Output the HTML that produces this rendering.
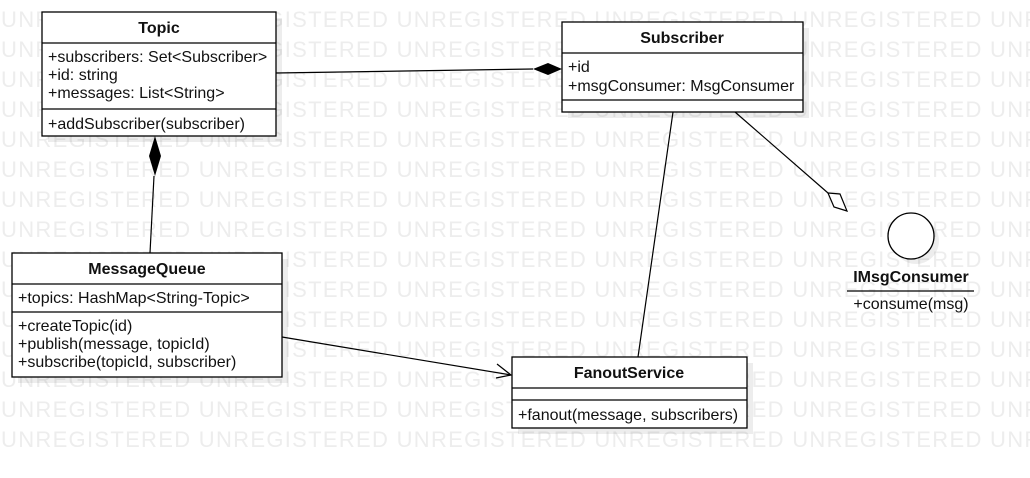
<!DOCTYPE html>
<html><head><meta charset="utf-8"><style>
html,body{margin:0;padding:0;background:#fff;}
svg{display:block;}
.wm{font-family:"Liberation Sans",sans-serif;font-size:22px;fill:#ededed;letter-spacing:1.3px;}
.t{font-family:"Liberation Sans",sans-serif;font-size:16px;fill:#111;}
.b{font-family:"Liberation Sans",sans-serif;font-size:16px;font-weight:bold;fill:#111;}
</style></head><body>
<svg width="1030" height="478" viewBox="0 0 1030 478" xmlns="http://www.w3.org/2000/svg">
<g class="wm">
<text x="1" y="27">UNREGISTERED UNREGISTERED UNREGISTERED UNREGISTERED UNREGISTERED UNREGISTERED</text>
<text x="1" y="57">UNREGISTERED UNREGISTERED UNREGISTERED UNREGISTERED UNREGISTERED UNREGISTERED</text>
<text x="1" y="87">UNREGISTERED UNREGISTERED UNREGISTERED UNREGISTERED UNREGISTERED UNREGISTERED</text>
<text x="1" y="117">UNREGISTERED UNREGISTERED UNREGISTERED UNREGISTERED UNREGISTERED UNREGISTERED</text>
<text x="1" y="147">UNREGISTERED UNREGISTERED UNREGISTERED UNREGISTERED UNREGISTERED UNREGISTERED</text>
<text x="1" y="177">UNREGISTERED UNREGISTERED UNREGISTERED UNREGISTERED UNREGISTERED UNREGISTERED</text>
<text x="1" y="207">UNREGISTERED UNREGISTERED UNREGISTERED UNREGISTERED UNREGISTERED UNREGISTERED</text>
<text x="1" y="237">UNREGISTERED UNREGISTERED UNREGISTERED UNREGISTERED UNREGISTERED UNREGISTERED</text>
<text x="1" y="267">UNREGISTERED UNREGISTERED UNREGISTERED UNREGISTERED UNREGISTERED UNREGISTERED</text>
<text x="1" y="297">UNREGISTERED UNREGISTERED UNREGISTERED UNREGISTERED UNREGISTERED UNREGISTERED</text>
<text x="1" y="327">UNREGISTERED UNREGISTERED UNREGISTERED UNREGISTERED UNREGISTERED UNREGISTERED</text>
<text x="1" y="357">UNREGISTERED UNREGISTERED UNREGISTERED UNREGISTERED UNREGISTERED UNREGISTERED</text>
<text x="1" y="387">UNREGISTERED UNREGISTERED UNREGISTERED UNREGISTERED UNREGISTERED UNREGISTERED</text>
<text x="1" y="417">UNREGISTERED UNREGISTERED UNREGISTERED UNREGISTERED UNREGISTERED UNREGISTERED</text>
<text x="1" y="447">UNREGISTERED UNREGISTERED UNREGISTERED UNREGISTERED UNREGISTERED UNREGISTERED</text>
</g>
<g fill="#000" fill-opacity="0.07">
<rect x="48" y="18" width="234" height="124"/>
<rect x="568" y="28" width="241" height="90"/>
<rect x="18" y="259" width="270" height="124"/>
<rect x="518" y="363" width="235" height="71"/>
<circle cx="916" cy="241" r="23"/>
</g>
<g stroke="#000" stroke-width="1.2" fill="none">
<line x1="276" y1="73" x2="533" y2="69"/>
<line x1="154" y1="176" x2="150" y2="253"/>
<line x1="673" y1="112" x2="638" y2="357"/>
<line x1="735" y1="112" x2="828" y2="193"/>
<line x1="282" y1="337" x2="511" y2="375"/>
<polyline points="497,364 511,375 496,378"/>
</g>
<polygon points="562,69 548,63 533,69 548,75" fill="#000"/>
<polygon points="155,136 161,156 155,176 149,156" fill="#000"/>
<polygon points="828,193 840,194 847,211 834,207" fill="#fff" stroke="#000" stroke-width="1.2"/>
<g fill="#fff" stroke="#000" stroke-width="1.3">
<rect x="42" y="12" width="234" height="124"/>
<line x1="42" y1="43" x2="276" y2="43"/>
<line x1="42" y1="109" x2="276" y2="109"/>
<rect x="562" y="22" width="241" height="90"/>
<line x1="562" y1="53" x2="803" y2="53"/>
<line x1="562" y1="100" x2="803" y2="100"/>
<rect x="12" y="253" width="270" height="124"/>
<line x1="12" y1="284" x2="282" y2="284"/>
<line x1="12" y1="312" x2="282" y2="312"/>
<rect x="512" y="357" width="235" height="71"/>
<line x1="512" y1="388" x2="747" y2="388"/>
<line x1="512" y1="400" x2="747" y2="400"/>
<circle cx="911" cy="236" r="23"/>
<line x1="847" y1="291" x2="974" y2="291"/>
</g>
<text class="b" x="159" y="33" text-anchor="middle">Topic</text>
<text class="t" x="48" y="62">+subscribers: Set&lt;Subscriber&gt;</text>
<text class="t" x="48" y="80">+id: string</text>
<text class="t" x="48" y="98">+messages: List&lt;String&gt;</text>
<text class="t" x="48" y="129">+addSubscriber(subscriber)</text>
<text class="b" x="682" y="43" text-anchor="middle">Subscriber</text>
<text class="t" x="568" y="72">+id</text>
<text class="t" x="568" y="91">+msgConsumer: MsgConsumer</text>
<text class="b" x="147" y="274" text-anchor="middle">MessageQueue</text>
<text class="t" x="18" y="303">+topics: HashMap&lt;String-Topic&gt;</text>
<text class="t" x="18" y="331">+createTopic(id)</text>
<text class="t" x="18" y="349">+publish(message, topicId)</text>
<text class="t" x="18" y="367">+subscribe(topicId, subscriber)</text>
<text class="b" x="629" y="378" text-anchor="middle">FanoutService</text>
<text class="t" x="518" y="420">+fanout(message, subscribers)</text>
<text class="b" x="911" y="282" text-anchor="middle">IMsgConsumer</text>
<text class="t" x="911" y="309" text-anchor="middle">+consume(msg)</text>
</svg>
</body></html>
